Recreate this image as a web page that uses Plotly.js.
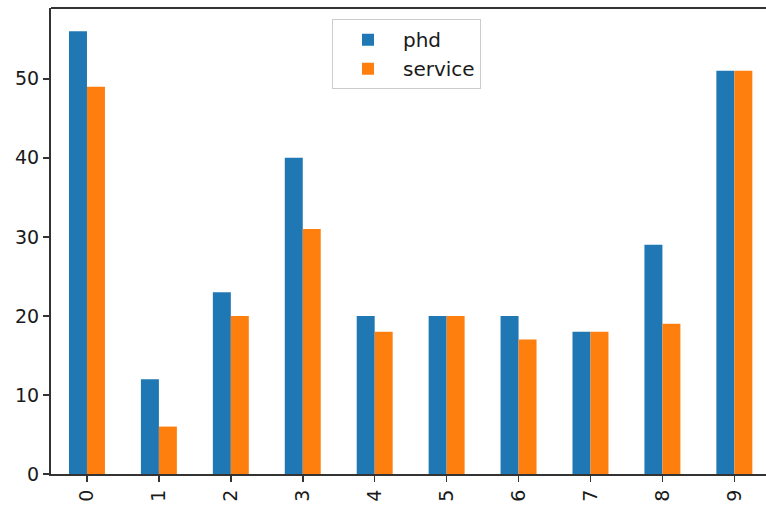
<!DOCTYPE html>
<html><head><meta charset="utf-8">
<script src="https://cdn.plot.ly/plotly-3.0.1.min.js"></script>
<style>html,body{margin:0;padding:0;background:#fff;overflow:hidden}#chart{width:766px;height:512px}</style>
</head><body><div id="chart"></div>
<script>
const categories = ["0","1","2","3","4","5","6","7","8","9"];
const phd = [56, 12, 23, 40, 20, 20, 20, 18, 29, 51];
const service = [49, 6, 20, 31, 18, 20, 17, 18, 19, 51];

const xIdx = categories.map((c, i) => i);
const traces = [
  {type: "bar", name: "phd", x: xIdx, y: phd, marker: {color: "#1f77b4"}},
  {type: "bar", name: "service", x: xIdx, y: service, marker: {color: "#ff7f0e"}}
];
const layout = {
  width: 766, height: 512,
  margin: {l: 51, r: 0, t: 8, b: 38},
  paper_bgcolor: "#fff", plot_bgcolor: "#fff",
  font: {family: "DejaVu Sans", size: 19, color: "#1a1a1a"},
  barmode: "group", bargap: 0.5, bargroupgap: 0,
  showlegend: true,
  legend: {x: 0.393, y: 0.976, xanchor: "left", yanchor: "top",
    bordercolor: "#cccccc", borderwidth: 1, bgcolor: "rgba(255,255,255,0.8)",
    itemwidth: 60,
    font: {family: "DejaVu Sans", size: 20, color: "#1a1a1a"}},
  xaxis: {range: [-0.5, 9.44], tickmode: "array", tickvals: xIdx, ticktext: categories,
    tickangle: -90, showgrid: false, zeroline: false, showline: true, mirror: false,
    linecolor: "#333", linewidth: 2, ticks: "outside", ticklen: 6, tickwidth: 1.5,
    tickcolor: "#333", automargin: false, fixedrange: true},
  yaxis: {range: [0, 58.95], tickvals: [0,10,20,30,40,50], showgrid: false, zeroline: false,
    showline: true, linecolor: "#333", linewidth: 2, ticks: "outside", ticklen: 6,
    tickwidth: 1.5, tickcolor: "#333", automargin: false, fixedrange: true},
  shapes: [{type: "line", xref: "paper", yref: "paper", x0: 0, x1: 1, y0: 1, y1: 1,
    line: {color: "#333", width: 2}}]
};
Plotly.newPlot("chart", traces, layout, {displayModeBar: false, staticPlot: true});
</script></body></html>
